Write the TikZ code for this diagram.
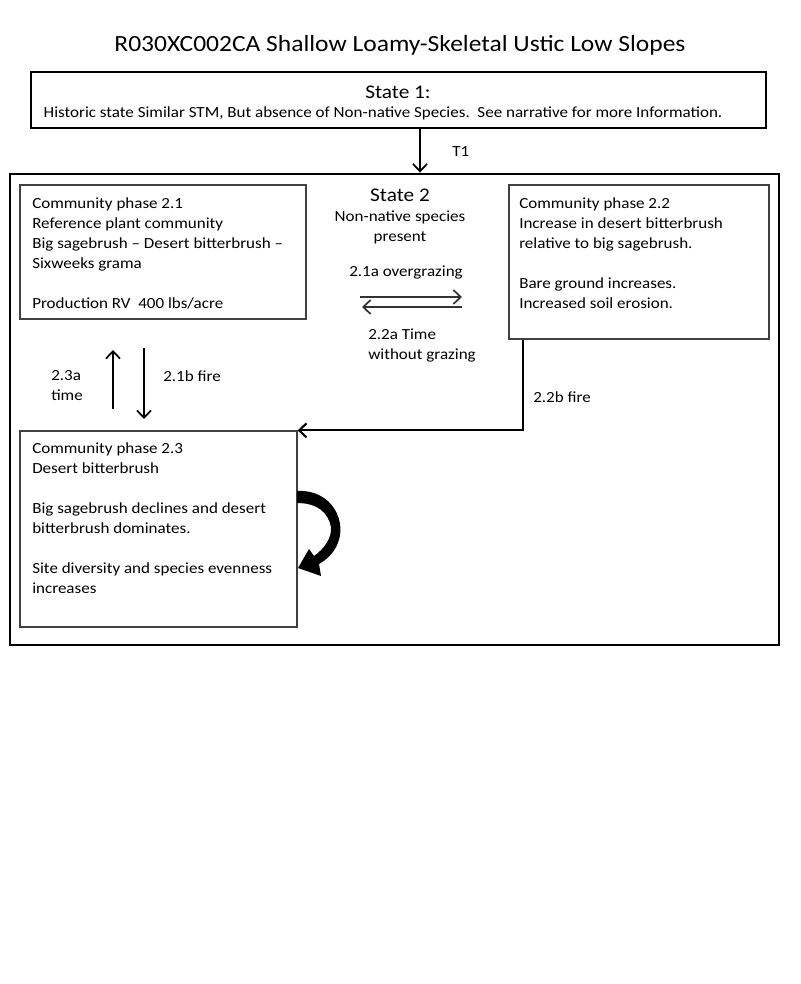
\documentclass[tikz,border=0pt]{standalone}
\usepackage{fontspec}
\setmainfont{Carlito}[FakeStretch=1.1]
\usetikzlibrary{arrows.meta}

\begin{document}
\begin{tikzpicture}[x=0.75pt, y=-0.75pt,
  every node/.style={inner sep=0pt, font=\fontsize{11.6}{15}\selectfont},
  statebox/.style={draw, line width=2.2pt},
  phasebox/.style={draw=black!75, line width=0.9pt},
  txt/.style={align=left, anchor=north west},
  arr/.style={-{Straight Barb[length=5.5pt, width=10.5pt]}, line width=1.3pt}]
\useasboundingbox (0,0) rectangle (800,984);

\node[font=\fontsize{17.4}{20}\selectfont] (Title) at (400,45) {R030XC002CA Shallow Loamy-Skeletal Ustic Low Slopes};

%state 1
\node[statebox, minimum width=551.25pt, minimum height=42pt] (S1) at (398.5,100) {};
\node[font=\fontsize{14.5}{18}\selectfont] (S1h) at (398,92) {State 1:};
\node (S1t) at (383,113) {Historic state Similar STM, But absence of Non-native Species.\ \ See narrative for more Information.};

%state 2
\node[statebox, minimum width=576.75pt, minimum height=353.25pt] (S2) at (394.5,409.5) {};
\node[font=\fontsize{14.5}{18}\selectfont] (S2h) at (400,195) {State 2};
\node[align=center] (S2t) at (400,227) {Non-native species\\present};

\coordinate (T1x) at (420,0);
\draw[arr] (S1.south -| T1x) -- (S2.north -| T1x);
\node[anchor=west] (T1l) at (452,152) {T1};

%phase 2.1
\node[phasebox, minimum width=214.5pt, minimum height=100.5pt] (P21) at (163,252) {};
\node[txt] (P21t) at (32,197) {Community phase 2.1\\Reference plant community\\Big sagebrush -- Desert bitterbrush --\\Sixweeks grama\\[15pt]Production RV\ \ 400 lbs/acre};

%phase 2.2
\node[phasebox, minimum width=195pt, minimum height=115.5pt] (P22) at (639,262) {};
\node[txt] (P22t) at (519,197) {Community phase 2.2\\Increase in desert bitterbrush\\relative to big sagebrush.\\[15pt]Bare ground increases.\\Increased soil erosion.};

%phase 2.3
\node[phasebox, minimum width=207.75pt, minimum height=147pt] (P23) at (158.5,529) {};
\node[txt] (P23t) at (32,442) {Community phase 2.3\\Desert bitterbrush\\[15pt]Big sagebrush declines and desert\\bitterbrush dominates.\\[15pt]Site diversity and species evenness\\increases};

%2.1 <-> 2.2
\coordinate (A1a) at (360,297);
\coordinate (A1b) at (462,297);
\coordinate (A2a) at (462,307);
\coordinate (A2b) at (362,307);
\draw[arr, draw=black!80] (A1a) -- (A1b);
\draw[arr, draw=black!80] (A2a) -- (A2b);
\node (L21a) at (406,273) {2.1a overgrazing};
\node[txt] (L22a) at (368,329) {2.2a Time\\without grazing};

%2.1 <-> 2.3
\coordinate (B1a) at (113,409);
\coordinate (B1b) at (113,350);
\coordinate (B2a) at (144,348);
\coordinate (B2b) at (144,419);
\draw[arr] (B1a) -- (B1b);
\draw[arr] (B2a) -- (B2b);
\node[txt] (L23a) at (51,370) {2.3a\\time};
\node[txt] (L21b) at (163,370) {2.1b fire};

%2.2 -> 2.3
\coordinate (C22) at (523,0);
\draw[arr, line width=1.6pt] (P22.south -| C22) |- (P23.north east);
\node[txt] (L22b) at (533,391) {2.2b fire};

%loop on 2.3
\fill (297,491) .. controls (332,489) and (348,522) .. (337,545)
  .. controls (333,554) and (326,560) .. (319,564) -- (321,576) -- (298,568)
  -- (309,549) -- (314,556) .. controls (324,549) and (332,538) .. (331,527)
  .. controls (328,512) and (317,503) .. (297,503) -- cycle;
\end{tikzpicture}
\end{document}
